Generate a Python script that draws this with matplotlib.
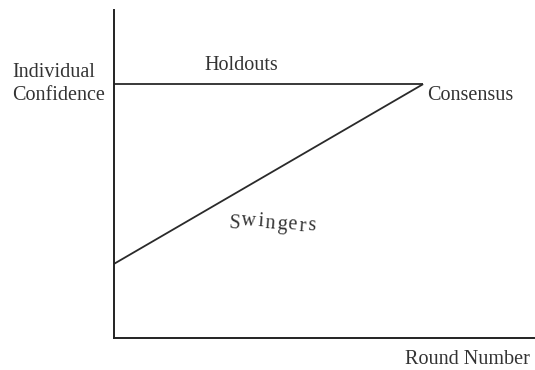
import matplotlib.pyplot as plt

# stylised diagram: confidence of two groups over rounds (axes 0..1, no ticks)
rounds = [0.0, 0.736]
holdouts = [0.774, 0.774]
swingers = [0.226, 0.774]

group_labels = ["Holdouts", "Swingers", "Consensus"]
x_label = "Round Number"
y_label = ["Individual", "Confidence"]

W, H = 535, 370
fig = plt.figure(figsize=(W / 100, H / 100), dpi=100)
ax = fig.add_axes([114 / W, (H - 338) / H, (534 - 114) / W, (338 - 10) / H])
ax.set_xlim(0, 1)
ax.set_ylim(0, 1)
for side in ["top", "right"]:
    ax.spines[side].set_visible(False)
for side in ["left", "bottom"]:
    ax.spines[side].set_linewidth(1.4)
    ax.spines[side].set_color("#222222")
ax.set_xticks([])
ax.set_yticks([])

ink = "#2a2a2a"
ax.plot(rounds, holdouts, color=ink, lw=1.3, solid_capstyle="butt")
ax.plot(rounds, swingers, color=ink, lw=1.3, solid_capstyle="butt")

font = dict(family="Liberation Serif", fontsize=14.5, color="#333333")

def px(x, y):
    # pixel position -> data coords of the axes
    return (x - 114) / 420, (338 - y) / 328

ax.text(*px(241, 70), group_labels[0], ha="center", va="baseline", **font)
ax.text(*px(427, 100), group_labels[2], ha="left", va="baseline", **font)

fig.text(12 / W, (H - 77) / H, y_label[0], ha="left", va="baseline", **font)
fig.text(12 / W, (H - 100) / H, y_label[1], ha="left", va="baseline", **font)
fig.text(530 / W, (H - 364) / H, x_label, ha="right", va="baseline", **font)

# "Swingers" drawn letter by letter with a wavy baseline
renderer = fig.canvas.get_renderer()
base = [229, 226, 226, 229, 230, 230, 231, 231]
xcur = 228
for ch, b in zip(group_labels[1], base):
    t = fig.text(xcur / W, (H - b) / H, ch, ha="left", va="baseline",
                 rotation=-4, **font)
    xcur += t.get_window_extent(renderer).width + 0.3

fig.savefig("out.png", dpi=100)
